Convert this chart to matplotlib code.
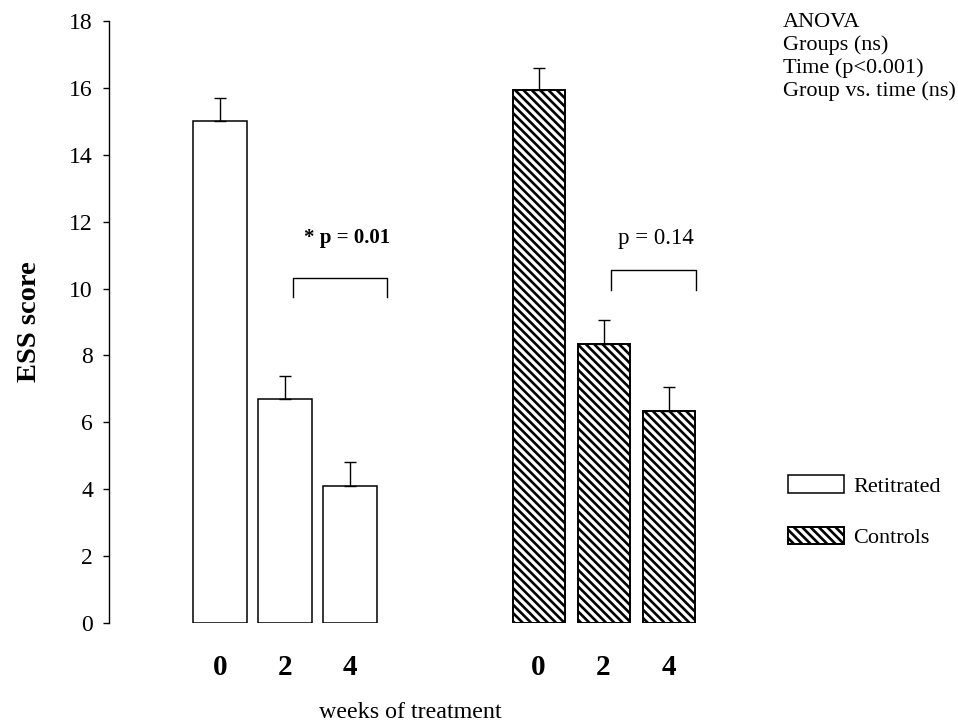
import numpy as np
import matplotlib
matplotlib.use('Agg')
import matplotlib.pyplot as plt

plt.rcParams['font.family'] = ['Liberation Serif', 'DejaVu Serif']
plt.rcParams['hatch.linewidth'] = 1.9

# data
weeks = ['0', '2', '4']
retitrated = [15.0, 6.7, 4.1]
retitrated_err = [0.7, 0.7, 0.7]
controls = [15.95, 8.35, 6.35]
controls_err = [0.65, 0.7, 0.7]
pos_ret = np.array([0.0, 1.0, 2.0])
pos_con = np.array([4.9, 5.9, 6.9])

fig = plt.figure(figsize=(9.58, 7.26), dpi=100)
ax = fig.add_axes([109/958, 103/726, (730-109)/958, 602/726])

b1 = ax.bar(pos_ret, retitrated, width=0.83, color='white', edgecolor='black',
            linewidth=1.1, label='Retitrated')
b2 = ax.bar(pos_con, controls, width=0.8, color='white', edgecolor='black',
            linewidth=1.4, hatch='\\\\\\\\', label='Controls')
ax.errorbar(pos_ret, retitrated, yerr=[np.zeros(3), retitrated_err], fmt='none',
            ecolor='black', elinewidth=1, capsize=4, capthick=1)
ax.errorbar(pos_con, controls, yerr=[np.zeros(3), controls_err], fmt='none',
            ecolor='black', elinewidth=1, capsize=4, capthick=1)

# significance brackets
ax.plot([1.12, 1.12, 2.57, 2.57], [9.75, 10.32, 10.32, 9.75], color='black', lw=1)
ax.text(1.95, 11.5, '* p = 0.01', ha='center', va='center', fontsize=15, fontweight='bold')
ax.plot([6.02, 6.02, 7.32, 7.32], [9.95, 10.55, 10.55, 9.95], color='black', lw=1)
ax.text(6.7, 11.5, 'p = 0.14', ha='center', va='center', fontsize=16.5)

ax.set_ylim(0, 18)
ax.set_xlim(-1.708, 7.846)
ax.set_yticks(np.arange(0, 19, 2))
ax.tick_params(axis='y', labelsize=17, length=4.5, width=1, direction='out', pad=7)
ax.set_xticks(np.concatenate([pos_ret, pos_con]))
ax.set_xticklabels(weeks + weeks, fontsize=21, fontweight='bold')
ax.tick_params(axis='x', length=0, pad=22)
for s in ['top', 'right', 'bottom']:
    ax.spines[s].set_visible(False)
ax.spines['left'].set_linewidth(1)

fig.text(30/958, 1 - 322/726, 'ESS score', rotation=90, ha='center', va='center',
         fontsize=20.5, fontweight='bold')
fig.text(410/958, 1 - 712/726, 'weeks of treatment', ha='center', va='center', fontsize=17.3)
fig.text(783/958, 1 - 13/726, 'ANOVA\nGroups (ns)\nTime (p<0.001)\nGroup vs. time (ns)',
         ha='left', va='top', fontsize=16, linespacing=1.22)

fig.legend(handles=[b1, b2], labels=['Retitrated', 'Controls'], loc='upper left',
           bbox_to_anchor=(788/958, 1 - 475/726), frameon=False, fontsize=16,
           handlelength=2.5, handleheight=0.85, handletextpad=0.45, labelspacing=1.35,
           borderpad=0, borderaxespad=0)

fig.savefig('out.png', dpi=100)
